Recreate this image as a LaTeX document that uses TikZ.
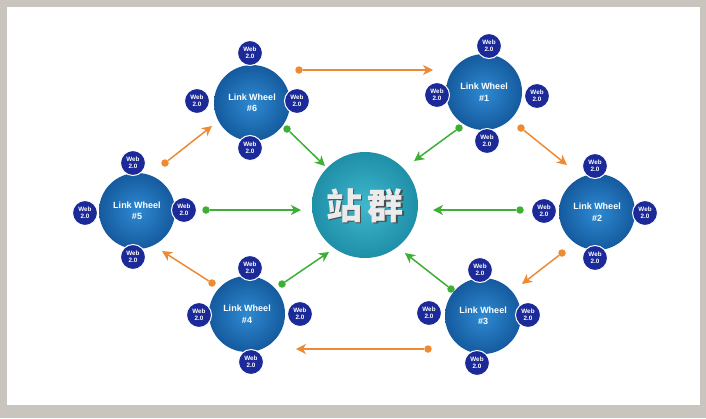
\documentclass[tikz,border=0pt]{standalone}
\usepackage{fontspec}
\setmainfont{Liberation Sans}
\newfontfamily\cjk{Noto Sans CJK SC}
\usetikzlibrary{arrows.meta}
\definecolor{frame}{HTML}{C9C5BE}
\definecolor{wheelin}{HTML}{2E8AD2}
\definecolor{wheelout}{HTML}{155A9E}
\definecolor{webc}{HTML}{1B2A98}
\definecolor{hubin}{HTML}{3FB8CC}
\definecolor{hubout}{HTML}{1F8FA8}
\definecolor{orng}{HTML}{EE8A33}
\definecolor{grn}{HTML}{3DAF35}
\tikzset{
  wheel/.style={circle, minimum size=76pt, inner sep=0pt, inner color=wheelin, outer color=wheelout, text=white, font=\bfseries\fontsize{9}{11.5}\selectfont, align=center},
  web/.style={circle, minimum size=25pt, inner sep=0pt, fill=webc, draw=white, line width=1pt, text=white, font=\bfseries\fontsize{6.3}{7}\selectfont, align=center},
  hub/.style={circle, minimum size=106pt, inner sep=0pt, inner color=hubin, outer color=hubout},
  oarr/.style={orng, line width=1.5pt, -{Stealth[length=10pt,width=10pt,inset=3pt]}},
  garr/.style={grn, line width=1.5pt, -{Stealth[length=10pt,width=10pt,inset=3pt]}},
  odot/.style={circle, fill=orng, minimum size=7.5pt, inner sep=0pt},
  gdot/.style={circle, fill=grn, minimum size=7.5pt, inner sep=0pt},
}
\newcommand{\webtxt}{Web\\2.0}
\begin{document}
\begin{tikzpicture}[x=1pt,y=-1pt]
\useasboundingbox (0,0) rectangle (706,418);
\fill[frame] (0,0) rectangle (706,418);
\fill[white] (7,7) rectangle (700,405);
% hub
\node[hub] (hub) at (365,205) {};
\node[text=black!70, font=\cjk\bfseries\fontsize{36}{36}\selectfont] at (366.5,207) {站\,群};
\node[text=white!92!black, font=\cjk\bfseries\fontsize{36}{36}\selectfont] (hubt) at (365,205.5) {站\,群};
% wheels
\node[wheel] (w6) at (252,103) {Link Wheel\\\#6};
\node[wheel] (w1) at (484,92) {Link Wheel\\\#1};
\node[wheel] (w2) at (597,212) {Link Wheel\\\#2};
\node[wheel] (w3) at (483,316) {Link Wheel\\\#3};
\node[wheel] (w4) at (247,314) {Link Wheel\\\#4};
\node[wheel] (w5) at (137,211) {Link Wheel\\\#5};
% web nodes
\node[web] (w6t) at (250,53) {\webtxt};
\node[web] (w6l) at (197,101) {\webtxt};
\node[web] (w6r) at (297,101) {\webtxt};
\node[web] (w6b) at (250,148) {\webtxt};
\node[web] (w1t) at (489,46) {\webtxt};
\node[web] (w1l) at (437,95) {\webtxt};
\node[web] (w1r) at (537,96) {\webtxt};
\node[web] (w1b) at (487,141) {\webtxt};
\node[web] (w2t) at (595,166) {\webtxt};
\node[web] (w2l) at (544,211) {\webtxt};
\node[web] (w2r) at (645,213) {\webtxt};
\node[web] (w2b) at (595,258) {\webtxt};
\node[web] (w3t) at (480,270) {\webtxt};
\node[web] (w3l) at (429,313) {\webtxt};
\node[web] (w3r) at (528,315) {\webtxt};
\node[web] (w3b) at (477,363) {\webtxt};
\node[web] (w4t) at (250,268) {\webtxt};
\node[web] (w4l) at (199,315) {\webtxt};
\node[web] (w4r) at (300,314) {\webtxt};
\node[web] (w4b) at (251,362) {\webtxt};
\node[web] (w5t) at (133,163) {\webtxt};
\node[web] (w5l) at (85,213) {\webtxt};
\node[web] (w5r) at (184,210) {\webtxt};
\node[web] (w5b) at (133,257) {\webtxt};
% orange connectors
\node[odot] (o61) at (299,70) {};   \coordinate (e61) at (433,70);
\node[odot] (o12) at (521,128) {};  \coordinate (e12) at (567,165);
\node[odot] (o23) at (562,253) {};  \coordinate (e23) at (522,284);
\node[odot] (o34) at (428,349) {};  \coordinate (e34) at (296,349);
\node[odot] (o45) at (212,283) {};  \coordinate (e45) at (162,251);
\node[odot] (o56) at (165,163) {};  \coordinate (e56) at (212,126);
\draw[oarr] (o61) -- (e61);
\draw[oarr] (o12) -- (e12);
\draw[oarr] (o23) -- (e23);
\draw[oarr] (o34) -- (e34);
\draw[oarr] (o45) -- (e45);
\draw[oarr] (o56) -- (e56);
% green connectors
\node[gdot] (g6) at (287,129) {};  \coordinate (h6) at (325,166);
\node[gdot] (g1) at (459,128) {};  \coordinate (h1) at (414,161);
\node[gdot] (g2) at (520,210) {};  \coordinate (h2) at (433,210);
\node[gdot] (g3) at (451,289) {};  \coordinate (h3) at (405,253);
\node[gdot] (g4) at (282,284) {};  \coordinate (h4) at (329,252);
\node[gdot] (g5) at (206,210) {};  \coordinate (h5) at (301,210);
\draw[garr] (g6) -- (h6);
\draw[garr] (g1) -- (h1);
\draw[garr] (g2) -- (h2);
\draw[garr] (g3) -- (h3);
\draw[garr] (g4) -- (h4);
\draw[garr] (g5) -- (h5);
\end{tikzpicture}
\end{document}
